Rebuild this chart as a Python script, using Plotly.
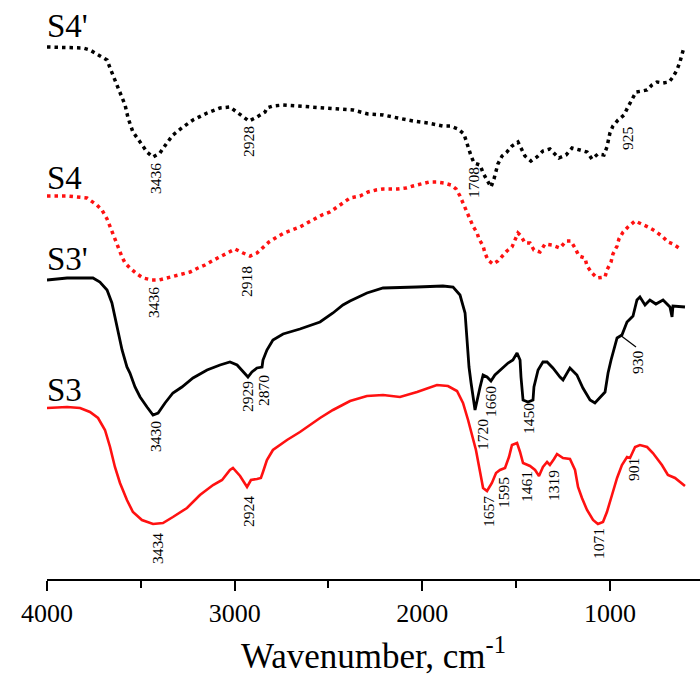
import plotly.graph_objects as go

# ---- data (wavenumber cm^-1, offset transmittance a.u.) ----
s4p_wn = [4000, 3808, 3771, 3680, 3664, 3638, 3611, 3584, 3568, 3542, 3504, 3467, 3435, 3398, 3361, 3329,
          3275, 3222, 3147, 3078, 3025, 2987, 2955, 2924, 2881, 2838, 2828, 2796, 2742, 2652, 2476, 2401,
          2369, 2289, 2209, 2130, 2050, 1970, 1890, 1852, 1810, 1778, 1756, 1740, 1724, 1692, 1676, 1655,
          1634, 1618, 1597, 1575, 1549, 1522, 1490, 1474, 1453, 1421, 1389, 1357, 1320, 1304, 1272, 1234,
          1202, 1160, 1122, 1096, 1064, 1032, 1016, 1000, 984, 957, 925, 904, 882, 861, 829, 802, 776, 749,
          717, 685, 664, 643, 627, 616, 605]
s4p_val = [532, 531, 529, 519, 511, 499, 487, 474, 461, 447, 437, 427, 422, 426, 436, 444,
           452, 459, 466, 471, 472, 467, 462, 458, 462, 467, 471, 473, 474, 473, 471, 470,
           469, 465, 464, 461, 458, 456, 453, 453, 450, 445, 432, 423, 416, 414, 406, 399,
           392, 400, 415, 423, 427, 433, 437, 431, 423, 418, 422, 428, 430, 427, 421, 424,
           431, 429, 427, 420, 425, 424, 432, 446, 453, 459, 464, 472, 480, 487, 488, 489, 494, 497,
           496, 497, 502, 509, 517, 525, 532]

s4_wn = [4000, 3893, 3840, 3787, 3734, 3707, 3680, 3664, 3648, 3638, 3622, 3600, 3584, 3558, 3520, 3488,
         3440, 3403, 3361, 3323, 3281, 3238, 3195, 3158, 3121, 3078, 3041, 2998, 2955, 2918, 2881, 2849,
         2817, 2774, 2737, 2694, 2652, 2614, 2572, 2535, 2492, 2455, 2412, 2385, 2332, 2289, 2247, 2209,
         2130, 2087, 2050, 2007, 1964, 1922, 1884, 1847, 1820, 1799, 1783, 1762, 1746, 1730, 1708, 1698,
         1676, 1666, 1650, 1623, 1597, 1570, 1549, 1522, 1506, 1490, 1474, 1453, 1426, 1405, 1373, 1346,
         1309, 1266, 1234, 1208, 1186, 1165, 1133, 1122, 1096, 1069, 1026, 1016, 994, 984, 962, 952, 930,
         904, 866, 829, 797, 760, 717, 691, 664, 632]
s4_val = [383, 383, 382, 381, 374, 369, 360, 352, 346, 339, 331, 322, 316, 311, 305, 301,
          299, 299, 301, 303, 305, 307, 311, 314, 318, 322, 326, 330, 326, 323, 326, 331,
          337, 342, 346, 349, 352, 356, 360, 364, 367, 372, 377, 381, 383, 387, 389, 390,
          390, 391, 393, 395, 397, 397, 396, 394, 390, 383, 376, 368, 361, 353, 346, 340,
          333, 326, 319, 315, 318, 324, 328, 332, 339, 346, 343, 336, 336, 329, 327, 335,
          334, 331, 338, 338, 331, 323, 321, 313, 306, 301, 302, 309, 317, 325, 333, 340, 347,
          352, 358, 355, 352, 348, 342, 337, 335, 331]

s3p_wn = [4000, 3893, 3840, 3755, 3718, 3680, 3654, 3638, 3622, 3600, 3574, 3558, 3531, 3504, 3467, 3435,
          3408, 3371, 3329, 3281, 3222, 3147, 3078, 3025, 2987, 2955, 2929, 2908, 2881, 2854, 2849, 2828,
          2796, 2742, 2652, 2545, 2476, 2423, 2385, 2295, 2209, 2028, 1890, 1836, 1799, 1772, 1762, 1751,
          1740, 1730, 1719, 1692, 1676, 1655, 1634, 1613, 1575, 1543, 1517, 1495, 1479, 1474, 1463, 1437,
          1410, 1405, 1383, 1357, 1335, 1304, 1266, 1250, 1213, 1176, 1144, 1106, 1080, 1053, 1026, 1010,
          994, 962, 936, 909, 877, 856, 840, 813, 787, 755, 717, 680, 669, 664, 600]
s3p_val = [299, 301, 301, 301, 297, 289, 276, 262, 246, 229, 212, 206, 192, 182, 172, 164,
           166, 176, 186, 192, 201, 209, 214, 217, 214, 207, 202, 207, 211, 212, 219, 229,
           239, 245, 250, 257, 266, 274, 278, 286, 291, 292, 293, 292, 284, 266, 239, 212,
           196, 181, 169, 192, 204, 202, 198, 204, 211, 216, 219, 226, 219, 202, 179, 177,
           179, 192, 209, 217, 217, 211, 202, 199, 211, 204, 191, 179, 176, 182, 187, 206,
           219, 241, 244, 257, 263, 279, 282, 274, 279, 275, 279, 272, 262, 273, 272]

s3_wn = [4000, 3893, 3824, 3771, 3728, 3691, 3664, 3638, 3611, 3574, 3542, 3494, 3435, 3382, 3329, 3254,
         3185, 3115, 3067, 3025, 3009, 2971, 2934, 2913, 2881, 2860, 2849, 2828, 2796, 2721, 2652, 2545,
         2476, 2385, 2295, 2209, 2119, 2028, 1922, 1863, 1815, 1783, 1756, 1730, 1714, 1692, 1676, 1655,
         1629, 1607, 1586, 1559, 1538, 1522, 1495, 1479, 1463, 1426, 1399, 1378, 1357, 1335, 1320, 1298,
         1282, 1250, 1213, 1186, 1170, 1149, 1122, 1090, 1064, 1037, 1016, 989, 962, 936, 909, 893, 866,
         840, 802, 771, 723, 691, 653, 600]
s3_val = [171, 172, 171, 167, 161, 149, 132, 112, 96, 79, 67, 59, 55, 56, 62, 71,
          84, 94, 99, 109, 111, 103, 92, 99, 100, 101, 107, 119, 129, 139, 147, 161,
          169, 178, 183, 184, 182, 187, 194, 193, 188, 176, 159, 142, 129, 107, 91, 88,
          96, 106, 109, 111, 122, 134, 136, 127, 116, 113, 109, 103, 112, 117, 114, 120,
          125, 121, 120, 109, 92, 81, 69, 59, 55, 57, 67, 84, 101, 114, 122, 121, 132,
          134, 132, 126, 114, 104, 101, 93]

# peak labels: text, x (cm^-1), y (a.u.)
peak_text = ["3436", "2928", "1708", "925", "3436", "2918", "3430", "2929", "2870", "1720", "1660",
             "1450", "930", "3434", "2924", "1657", "1595", "1461", "1319", "1071", "901"]
peak_x = [3424, 2929, 1730, 909, 3435, 2940, 3424, 2934, 2849, 1682, 1639,
          1437, 856, 3414, 2929, 1650, 1570, 1447, 1304, 1064, 877]
peak_y = [400, 438, 397, 441, 276, 298, 142, 182, 189, 145, 177,
          161, 217, 31, 68, 68, 87, 92, 94, 36, 109]

series_names = ["S4'", "S4", "S3'", "S3"]
series_label_y = [553, 401, 320, 189]

tick_vals = [4000, 3000, 2000, 1000]

SERIF = "Liberation Serif, Times New Roman, serif"

fig = go.Figure()
fig.add_trace(go.Scatter(x=s4p_wn, y=s4p_val, mode="lines",
                         line=dict(color="black", width=3.5, dash="3.5px,4px"), name="S4'"))
fig.add_trace(go.Scatter(x=s4_wn, y=s4_val, mode="lines",
                         line=dict(color="#ff1111", width=3.5, dash="3.5px,4px"), name="S4"))
fig.add_trace(go.Scatter(x=s3p_wn, y=s3p_val, mode="lines",
                         line=dict(color="black", width=2.8), name="S3'"))
fig.add_trace(go.Scatter(x=s3_wn, y=s3_val, mode="lines",
                         line=dict(color="#ff1111", width=2.6), name="S3"))

for t, x, y in zip(peak_text, peak_x, peak_y):
    fig.add_annotation(x=x, y=y, xref="x", yref="y", text=t, textangle=-90, showarrow=False,
                       xanchor="center", yanchor="middle",
                       font=dict(family=SERIF, size=15.5, color="black"))

for name, y in zip(series_names, series_label_y):
    fig.add_annotation(x=4000, y=y, xref="x", yref="y", text=name, showarrow=False,
                       xanchor="left", yanchor="middle", xshift=-2,
                       font=dict(family=SERIF, size=33, color="black"))

# leader line for the 930 label
fig.add_shape(type="line", x0=946, y0=244, x1=861, y1=232, xref="x", yref="y",
              line=dict(color="black", width=1.2))

fig.update_layout(
    width=700, height=686,
    margin=dict(l=47, r=0, t=0, b=107),
    paper_bgcolor="white", plot_bgcolor="white",
    showlegend=False,
    xaxis=dict(range=[4000, 520], showline=True, linecolor="black", linewidth=2,
               ticks="outside", ticklen=10, tickwidth=2, tickcolor="black",
               tickvals=tick_vals, ticktext=[str(v) for v in tick_vals],
               minor=dict(dtick=500, tick0=0, ticks="outside", ticklen=7, tickwidth=2,
                          tickcolor="black", showgrid=False),
               showgrid=False, zeroline=False,
               tickfont=dict(family=SERIF, size=26, color="black"),
               title=dict(text="Wavenumber, cm<sup>-1</sup>", standoff=16,
                          font=dict(family=SERIF, size=35, color="black"))),
    yaxis=dict(range=[0, 579], visible=False, showgrid=False, zeroline=False),
)

fig.write_html("out.html")
